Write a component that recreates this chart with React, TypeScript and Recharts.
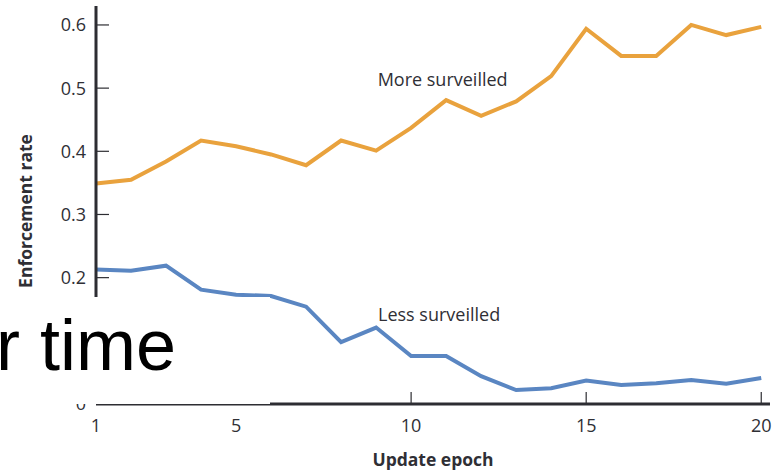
import { LineChart, Line, XAxis, YAxis, ReferenceDot } from "recharts";

const epochs = [1, 2, 3, 4, 5, 6, 7, 8, 9, 10, 11, 12, 13, 14, 15, 16, 17, 18, 19, 20];
const moreSurveilled = [0.349, 0.355, 0.384, 0.417, 0.408, 0.395, 0.378, 0.417, 0.401, 0.437, 0.481, 0.456, 0.479, 0.519, 0.594, 0.551, 0.551, 0.6, 0.584, 0.597];
const lessSurveilled = [0.213, 0.211, 0.219, 0.181, 0.173, 0.171, 0.154, 0.098, 0.121, 0.076, 0.076, 0.044, 0.022, 0.025, 0.037, 0.03, 0.033, 0.038, 0.032, 0.041];
const xTicks = [1, 5, 10, 15, 20];
const yTicks = [0, 0.1, 0.2, 0.3, 0.4, 0.5, 0.6];

const data = epochs.map((epoch, i) => ({
  epoch,
  more: moreSurveilled[i],
  less: lessSurveilled[i],
}));

const font = "'Open Sans', 'Noto Sans', sans-serif";
const textColor = "#2f2f35";
const axisColor = "#2d2d32";
const orange = "#e9a23d";
const blue = "#5a86c2";

function XTick({ x, y, payload }: any) {
  return (
    <g>
      <line x1={x} x2={x} y1={y} y2={y - 12} stroke={axisColor} strokeWidth={1.2} />
      <text x={x} y={y + 28} textAnchor="middle" fontSize={18} fill={textColor} fontFamily={font}>
        {payload.value}
      </text>
    </g>
  );
}

function YTick({ x, y, payload }: any) {
  return (
    <g>
      <line x1={x} x2={x + 13} y1={y} y2={y} stroke={axisColor} strokeWidth={1.2} />
      <text x={x - 10} y={y} dy="0.36em" textAnchor="end" fontSize={18} fill={textColor} fontFamily={font}>
        {payload.value === 0 ? "0" : payload.value.toFixed(1)}
      </text>
    </g>
  );
}

function YLabel({ viewBox }: any) {
  const cx = viewBox.x + 25;
  const cy = viewBox.y + viewBox.height / 2 + 6;
  return (
    <text
      x={cx}
      y={cy}
      transform={`rotate(-90, ${cx}, ${cy})`}
      textAnchor="middle"
      dominantBaseline="central"
      fontSize={17.5}
      fontWeight="bold"
      fill={textColor}
      fontFamily={font}
    >
      Enforcement rate
    </text>
  );
}

export default function App() {
  return (
    <div style={{ position: "absolute", left: 0, top: 0, width: 780, height: 471, background: "#fff" }}>
      <LineChart width={780} height={471} data={data} margin={{ top: 6, right: 10, bottom: 0, left: 0 }}>
        <XAxis
          dataKey="epoch"
          type="number"
          domain={[1, 20.25]}
          ticks={xTicks}
          height={67}
          tickSize={0}
          tickMargin={0}
          tickLine={false}
          tick={<XTick />}
          axisLine={{ stroke: axisColor, strokeWidth: 3 }}
          label={{
            value: "Update epoch",
            position: "insideBottom",
            offset: 5,
            fontSize: 17.5,
            fontWeight: "bold",
            fill: textColor,
            fontFamily: font,
          }}
        />
        <YAxis
          type="number"
          domain={[0, 0.63]}
          ticks={yTicks}
          width={96}
          tickSize={0}
          tickMargin={0}
          tickLine={false}
          tick={<YTick />}
          axisLine={{ stroke: axisColor, strokeWidth: 3 }}
          label={<YLabel />}
        />
        <Line type="linear" dataKey="more" stroke={orange} strokeWidth={4} dot={false} isAnimationActive={false} />
        <Line type="linear" dataKey="less" stroke={blue} strokeWidth={4} dot={false} isAnimationActive={false} />
        <ReferenceDot
          x={10.9}
          y={0.514}
          r={0}
          fill="none"
          stroke="none"
          label={{ value: "More surveilled", position: "center", fontSize: 18, fill: textColor, fontFamily: font }}
        />
        <ReferenceDot
          x={10.8}
          y={0.142}
          r={0}
          fill="none"
          stroke="none"
          label={{ value: "Less surveilled", position: "center", fontSize: 18, fill: textColor, fontFamily: font }}
        />
      </LineChart>
      <svg width={270} height={107} style={{ position: "absolute", left: 0, top: 297 }}>
        <rect x={0} y={0} width={270} height={107} fill="#fff" />
        <text x={-4} y={73} fontSize={72} fontFamily="'Liberation Sans', Arial, sans-serif" fill="#000">
          r time
        </text>
      </svg>
    </div>
  );
}
